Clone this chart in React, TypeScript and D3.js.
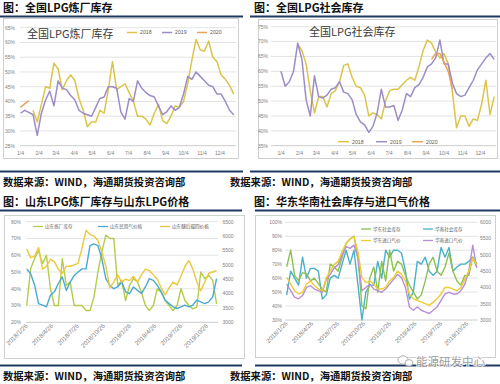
import * as d3 from 'd3'

const CJK = '"Noto Sans CJK SC", "Noto Sans", sans-serif'
const SANS = '"Liberation Sans", Arial, sans-serif'
const NAVY = '#1f3864'
const GRID = '#dcdcdc'
const BOX = '#cfcfcf'
const TICK = '#7f7f7f'
const LEGEND = '#595959'

// ---------- 全国LPG炼厂库存 / 社会库存 (weekly, one line per year)
const monthLabels = ['1/4', '2/4', '3/4', '4/4', '5/4', '6/4', '7/4', '8/4', '9/4', '10/4', '11/4', '12/4']
const monthDays = [0, 31, 59, 90, 120, 151, 181, 212, 243, 273, 304, 334]
const years = ['2018', '2019', '2020']
const yearColors = ['#dcc44a', '#9d8cc6', '#e8a35e']

const refineryTicks = [25, 30, 35, 40, 45, 50, 55, 60, 65]
const refinery2018Start = 3
const refinery2018 = [37, 33, 39, 45, 44.5, 53, 51, 44, 47, 49, 47, 41, 37, 31.5, 33, 33, 37, 36, 44, 53.5,
  44, 45, 46, 43, 40, 35, 35, 34, 32, 36, 39, 33.5, 32.5, 35, 38.5, 38, 40, 46, 54, 61,
  57.5, 57, 60.5, 55, 53.5, 49, 47.5, 45.5, 42.5]
const refinery2019 = [36, 37, 36.3, 35.5, 28.5, 36, 40.5, 43.5, 38.5, 47, 44.5, 44, 42, 40.5, 37, 36, 35.5, 35, 38, 41,
  41.5, 45, 45, 44.5, 36.5, 34, 41, 40, 47, 44.5, 43, 42, 41.5, 38.5, 35.5, 36.5, 38.5, 37, 38, 42.5,
  48.5, 47.5, 50, 48.5, 47, 45.5, 45, 42.5, 42.5, 40, 37, 35.5]
const refinery2020 = [38, 39.2, 40.3]

const socialTicks = [35, 40, 45, 50, 55, 60, 65, 70, 75]
const social2018Start = 4
const social2018 = [69, 67, 62.5, 53.5, 46, 51.5, 51.5, 48, 52.5, 53.5, 56.5, 62, 62.5, 58, 55, 54.5, 52, 45, 46, 45.5,
  44, 50, 53.5, 54, 54, 55.5, 57, 58, 57, 61.5, 67, 70.5, 69.5, 66.5, 64.5, 66, 62.5, 53, 41, 45,
  45, 41.5, 44, 43.5, 49, 57, 45.5, 51.5]
const social2019 = [60, 55, 56.5, 60, 69.5, 64, 50.5, 45, 58.5, 51.5, 51, 52, 54, 54.5, 56.5, 53, 52.5, 50.5, 45.5, 43,
  42, 39.5, 41.5, 46, 54, 48, 48, 48.5, 43.5, 47, 52.5, 51.5, 54.5, 55.5, 58, 61.5, 62.5, 64.5, 70.5, 62.5,
  62.5, 56, 52.5, 51.5, 52, 54.5, 57, 60.5, 62.5, 64.5, 66, 64]
const social2020Start = 36
const social2020 = [64, 66, 66, 63, 60, 54]

// ---------- 山东 / 华东华南 (two-weekly samples from 2018/1/26)
const sampleStart = new Date(2018, 0, 26)
const quarterLabels = ['2018/1/26', '2018/4/26', '2018/7/26', '2018/10/26', '2019/1/26', '2019/4/26', '2019/7/26', '2019/10/26']

const sdNames = ['山东炼厂库存', '山东民用气价格', '山东醚后碳四价格']
const sdColors = ['#b3cc4a', '#4aa9d3', '#ecc83a']
const sdPctTicks = [20, 30, 40, 50, 60, 70, 80]
const sdPriceTicks = [3000, 3500, 4000, 4500, 5000, 5500, 6000, 6500]
const sdInventory = [30, 52, 58, 63, 55, 60, 40, 30, 30, 58, 42, 44, 30, 30, 30, 27, 27, 35, 50, 62,
  72, 70, 70, 42, 45, 33, 42, 46, 44, 38, 30, 27, 30, 40, 38, 33, 30, 27, 30, 40,
  33, 30, 28, 29, 50, 46, 48, 45, 31]
const sdCivilGas = [4860, 4690, 4290, 3650, 3600, 3540, 3940, 4060, 4350, 4580, 4110, 4400, 4630, 4750, 4860, 4860, 5670, 5730, 5670, 5210,
  4520, 4290, 4170, 4230, 4400, 4060, 4000, 4230, 4110, 4000, 4230, 4520, 4460, 4290, 4060, 3770, 3650, 3540, 3480, 3540,
  3600, 3540, 3600, 3770, 3710, 3650, 3710, 3880, 4520]
const sdC4 = [5550, 5250, 5300, 5600, 4850, 4950, 5200, 5100, 4850, 4700, 4950, 4950, 5000, 5050, 5600, 6200, 6050, 6000, 5850, 5450,
  4950, 4200, 4400, 4650, 4400, 4500, 4450, 4600, 4400, 4650, 4850, 4800, 4650, 4500, 4200, 3950, 4200, 4400, 4300, 4600,
  4950, 5150, 4850, 4400, 4100, 4400, 4700, 4750, 4800]

const hdNames = ['华东社会库存', '华南社会库存', '华东进口气价', '华南进口气价']
const hdColors = ['#8cc152', '#4bb0c8', '#f0cc2e', '#b58fd8']
const hdPctTicks = [30, 40, 50, 60, 70, 80, 90, 100]
const hdPriceTicks = [3000, 3500, 4000, 4500, 5000, 5500, 6000]
const eastStock = [68, 80, 62, 58, 64, 63, 58, 60, 56, 52, 50, 70, 68, 65, 75, 85, 88, 90, 75, 40,
  38, 60, 68, 50, 72, 58, 80, 65, 72, 70, 62, 55, 50, 45, 48, 58, 70, 75, 65, 62,
  68, 78, 65, 58, 55, 62, 62, 75, 68]
const southStock = [48, 65, 60, 55, 75, 60, 67, 67, 65, 45, 48, 60, 62, 60, 70, 80, 70, 80, 55, 30,
  50, 55, 55, 72, 60, 80, 75, 80, 80, 78, 65, 45, 50, 72, 70, 75, 65, 62, 65, 82,
  75, 82, 65, 68, 70, 70, 72, 75, 70]
const eastPrice = [4300, 4100, 3900, 3800, 3850, 4100, 4200, 4050, 3950, 3900, 4300, 4500, 4700, 4800, 5100, 5350, 5500, 5550, 5100, 4300,
  4150, 4200, 4100, 3950, 3950, 4000, 4200, 4300, 4500, 4400, 4200, 3800, 3650, 3600, 3550, 3500, 3450, 3550, 3650, 3800,
  4000, 4000, 3950, 3900, 4000, 4250, 4500, 4900, 4700]
const southPrice = [4100, 3900, 3700, 3650, 3750, 4000, 4050, 3950, 3900, 3850, 4250, 4400, 4600, 4700, 5000, 5250, 5200, 5300, 4900, 3900,
  4000, 4100, 3950, 3900, 3850, 3950, 4100, 4250, 4400, 4300, 4000, 3400, 3300, 3400, 3300, 3250, 3200, 3300, 3400, 3600,
  3800, 3850, 3800, 3800, 3900, 4100, 4500, 5300, 4600]

type Lin = d3.ScaleLinear<number, number>
type Tim = d3.ScaleTime<number, number>

const sampleDate = (i: number) => d3.timeDay.offset(sampleStart, 14 * i)
const parseQ = d3.timeParse('%Y/%m/%d')

function seasonPath(x: Lin, y: Lin, values: number[], start: number) {
  return d3.line<number>().x((_, i) => x((start + i) * 7)).y(d => y(d))(values) ?? ''
}

function datedPath(x: Tim, y: Lin, values: number[]) {
  return d3.line<number>().x((_, i) => x(sampleDate(i))).y(d => y(d))(values) ?? ''
}

function Header({ x0, x1, title, titleX, baseY, lowerY, source, sourceX }: {
  x0: number; x1: number; title: string; titleX: number; baseY: number; lowerY: number; source?: boolean; sourceX: number
}) {
  return (
    <g>
      <text x={titleX} y={baseY} fontFamily={CJK} fontWeight={700} fontSize={11} fill="#111">{title}</text>
      <line x1={x0} x2={x1} y1={baseY + 4.5} y2={baseY + 4.5} stroke={NAVY} strokeWidth={2} />
      <line x1={x0} x2={x1} y1={lowerY} y2={lowerY} stroke={NAVY} strokeWidth={2} />
      {source && (
        <text x={sourceX} y={lowerY + 14.5} fontFamily={CJK} fontWeight={700} fontSize={10.3} fill="#111">
          数据来源：WIND，海通期货投资咨询部
        </text>
      )}
    </g>
  )
}

function SeasonChart({ box, x, y, ticks, gridX, labelX, series, title, titleX, titleY, legendX, legendY, legendLen }: {
  box: [number, number, number, number]; x: Lin; y: Lin; ticks: number[]; gridX: [number, number]; labelX: number
  series: { values: number[]; start: number }[]; title: string; titleX: number; titleY: number
  legendX: number[]; legendY: number; legendLen: number
}) {
  const base = y(ticks[0])
  return (
    <g>
      <rect x={box[0]} y={box[1]} width={box[2]} height={box[3]} fill="#fff" stroke={BOX} strokeWidth={1} />
      {ticks.map(t => (
        <g key={t}>
          <line x1={gridX[0]} x2={gridX[1]} y1={y(t)} y2={y(t)} stroke={t === ticks[0] ? '#bfbfbf' : GRID} strokeWidth={0.8} />
          <text x={labelX} y={y(t) + 1.8} textAnchor="end" fontFamily={SANS} fontSize={5} fill={TICK}>{t}%</text>
        </g>
      ))}
      {monthLabels.map((m, i) => (
        <text key={m} x={x(monthDays[i])} y={base + 9} textAnchor="middle" fontFamily={SANS} fontSize={5.2} fill={TICK}>{m}</text>
      ))}
      {series.map((s, i) => (
        <path key={i} d={seasonPath(x, y, s.values, s.start)} fill="none" stroke={yearColors[i]} strokeWidth={1.5} strokeLinejoin="round" />
      ))}
      <text x={titleX} y={titleY} fontFamily={CJK} fontSize={11} fill="#3a3a3a">{title}</text>
      {years.map((yr, i) => (
        <g key={yr}>
          <line x1={legendX[i]} x2={legendX[i] + legendLen} y1={legendY} y2={legendY} stroke={yearColors[i]} strokeWidth={1.5} />
          <text x={legendX[i] + legendLen + 3} y={legendY + 1.8} fontFamily={SANS} fontSize={5.2} fill={LEGEND}>{yr}</text>
        </g>
      ))}
    </g>
  )
}

function DualChart({ box, x, yL, yR, pctTicks, priceTicks, plotX, leftLabelX, rightLabelX, children, legend }: {
  box: [number, number, number, number]; x: Tim; yL: Lin; yR: Lin; pctTicks: number[]; priceTicks: number[]
  plotX: [number, number]; leftLabelX: number; rightLabelX: number; children: any
  legend: { x: number; y: number; name: string; color: string }[]
}) {
  const base = yL(pctTicks[0])
  return (
    <g>
      <rect x={box[0]} y={box[1]} width={box[2]} height={box[3]} fill="#fff" stroke={BOX} strokeWidth={1} />
      {pctTicks.map(t => (
        <g key={t}>
          <line x1={plotX[0]} x2={plotX[1]} y1={yL(t)} y2={yL(t)} stroke={t === pctTicks[0] ? '#bfbfbf' : GRID} strokeWidth={0.8} />
          <text x={leftLabelX} y={yL(t) + 1.8} textAnchor="end" fontFamily={SANS} fontSize={5} fill={TICK}>{t}%</text>
        </g>
      ))}
      {priceTicks.map(t => (
        <text key={t} x={rightLabelX} y={yR(t) + 1.8} fontFamily={SANS} fontSize={5} fill={TICK}>{t}</text>
      ))}
      {quarterLabels.map(q => {
        const px = x(parseQ(q) as Date)
        return (
          <text key={q} transform={`translate(${px + 1.5},${base + 4}) rotate(-45)`} textAnchor="end"
            fontFamily={SANS} fontSize={6.2} fill={TICK}>{q}</text>
        )
      })}
      {children}
      {legend.map(l => (
        <g key={l.name}>
          <line x1={l.x} x2={l.x + 10} y1={l.y} y2={l.y} stroke={l.color} strokeWidth={1.3} />
          <text x={l.x + 12} y={l.y + 1.6} fontFamily={CJK} fontSize={4.6} fill={LEGEND}>{l.name}</text>
        </g>
      ))}
    </g>
  )
}

export default function App() {
  // top-left: refinery inventory
  const tlX = d3.scaleLinear().domain([0, 357]).range([20.5, 233.7])
  const tlY = d3.scaleLinear().domain([25, 65]).range([145.7, 27.7])
  // top-right: social inventory
  const trX = d3.scaleLinear().domain([0, 357]).range([281, 494.2])
  const trY = d3.scaleLinear().domain([35, 75]).range([145.7, 26.7])
  // bottom-left: Shandong
  const end = sampleDate(sdInventory.length - 1)
  const blX = d3.scaleTime().domain([sampleStart, end]).range([26.7, 216.6])
  const blL = d3.scaleLinear().domain([20, 80]).range([322.3, 221.7])
  const blR = d3.scaleLinear().domain([3000, 6500]).range([322.3, 221.7])
  // bottom-right: East / South China
  const brX = d3.scaleTime().domain([sampleStart, end]).range([286.7, 476.7])
  const brL = d3.scaleLinear().domain([30, 100]).range([320, 222.3])
  const brR = d3.scaleLinear().domain([3000, 6000]).range([320, 222.3])

  return (
    <svg width={500} height={384} viewBox="0 0 500 384" style={{ position: 'absolute', left: 0, top: 0, background: '#fff' }}>
      <rect width={500} height={384} fill="#fff" />

      <Header x0={0} x1={243} title="图：全国LPG炼厂库存" titleX={3} baseY={12} lowerY={171.5} source sourceX={3} />
      <Header x0={250} x1={500} title="图：全国LPG社会库存" titleX={254} baseY={12} lowerY={171.5} source sourceX={230} />
      <Header x0={0} x1={242} title="图：山东LPG炼厂库存与山东LPG价格" titleX={3} baseY={206} lowerY={365.5} source sourceX={3} />
      <Header x0={255} x1={500} title="图：华东华南社会库存与进口气价格" titleX={254} baseY={206} lowerY={365.5} source sourceX={230} />

      <SeasonChart box={[3.5, 18.5, 235, 140]} x={tlX} y={tlY} ticks={refineryTicks} gridX={[20, 236]} labelX={15}
        series={[
          { values: refinery2018, start: refinery2018Start },
          { values: refinery2019, start: 0 },
          { values: refinery2020, start: 0 },
        ]}
        title="全国LPG炼厂库存" titleX={27} titleY={37.5} legendX={[127, 162, 197]} legendY={32.5} legendLen={10} />

      <SeasonChart box={[258.5, 19.5, 239, 139]} x={trX} y={trY} ticks={socialTicks} gridX={[271, 496]} labelX={268}
        series={[
          { values: social2018, start: social2018Start },
          { values: social2019, start: 0 },
          { values: social2020, start: social2020Start },
        ]}
        title="全国LPG社会库存" titleX={309} titleY={36} legendX={[338, 376, 412]} legendY={141.7} legendLen={11} />

      <DualChart box={[4.5, 215.5, 240, 143]} x={blX} yL={blL} yR={blR} pctTicks={sdPctTicks} priceTicks={sdPriceTicks}
        plotX={[26, 218]} leftLabelX={21} rightLabelX={222.5}
        legend={[
          { x: 33, y: 226.5, name: sdNames[0], color: sdColors[0] },
          { x: 98, y: 226.5, name: sdNames[1], color: sdColors[1] },
          { x: 160, y: 226.5, name: sdNames[2], color: sdColors[2] },
        ]}>
        <path d={datedPath(blX, blL, sdInventory)} fill="none" stroke={sdColors[0]} strokeWidth={1.4} strokeLinejoin="round" />
        <path d={datedPath(blX, blR, sdCivilGas)} fill="none" stroke={sdColors[1]} strokeWidth={1.4} strokeLinejoin="round" />
        <path d={datedPath(blX, blR, sdC4)} fill="none" stroke={sdColors[2]} strokeWidth={1.4} strokeLinejoin="round" />
      </DualChart>

      <DualChart box={[255.5, 215.5, 240, 142]} x={brX} yL={brL} yR={brR} pctTicks={hdPctTicks} priceTicks={hdPriceTicks}
        plotX={[285, 478]} leftLabelX={282} rightLabelX={480}
        legend={[
          { x: 361, y: 229, name: hdNames[0], color: hdColors[0] },
          { x: 423, y: 229, name: hdNames[1], color: hdColors[1] },
          { x: 361, y: 240.5, name: hdNames[2], color: hdColors[2] },
          { x: 423, y: 240.5, name: hdNames[3], color: hdColors[3] },
        ]}>
        <path d={datedPath(brX, brL, southStock)} fill="none" stroke={hdColors[1]} strokeWidth={1.4} strokeLinejoin="round" />
        <path d={datedPath(brX, brL, eastStock)} fill="none" stroke={hdColors[0]} strokeWidth={1.4} strokeLinejoin="round" />
        <path d={datedPath(brX, brR, southPrice)} fill="none" stroke={hdColors[3]} strokeWidth={1.4} strokeLinejoin="round" />
        <path d={datedPath(brX, brR, eastPrice)} fill="none" stroke={hdColors[2]} strokeWidth={1.4} strokeLinejoin="round" />
      </DualChart>

      {/* watermark */}
      <g opacity={0.85}>
        <ellipse cx={403} cy={360} rx={5} ry={4.2} fill="#fff" stroke="#9a9a9a" strokeWidth={0.9} />
        <ellipse cx={409} cy={363} rx={4} ry={3.4} fill="#fff" stroke="#9a9a9a" strokeWidth={0.9} />
        <text x={416} y={366} fontFamily={CJK} fontSize={11.5} fill="#8f8f8f" stroke="#fff" strokeWidth={2}
          paintOrder="stroke">能源研发中心</text>
      </g>
    </svg>
  )
}
